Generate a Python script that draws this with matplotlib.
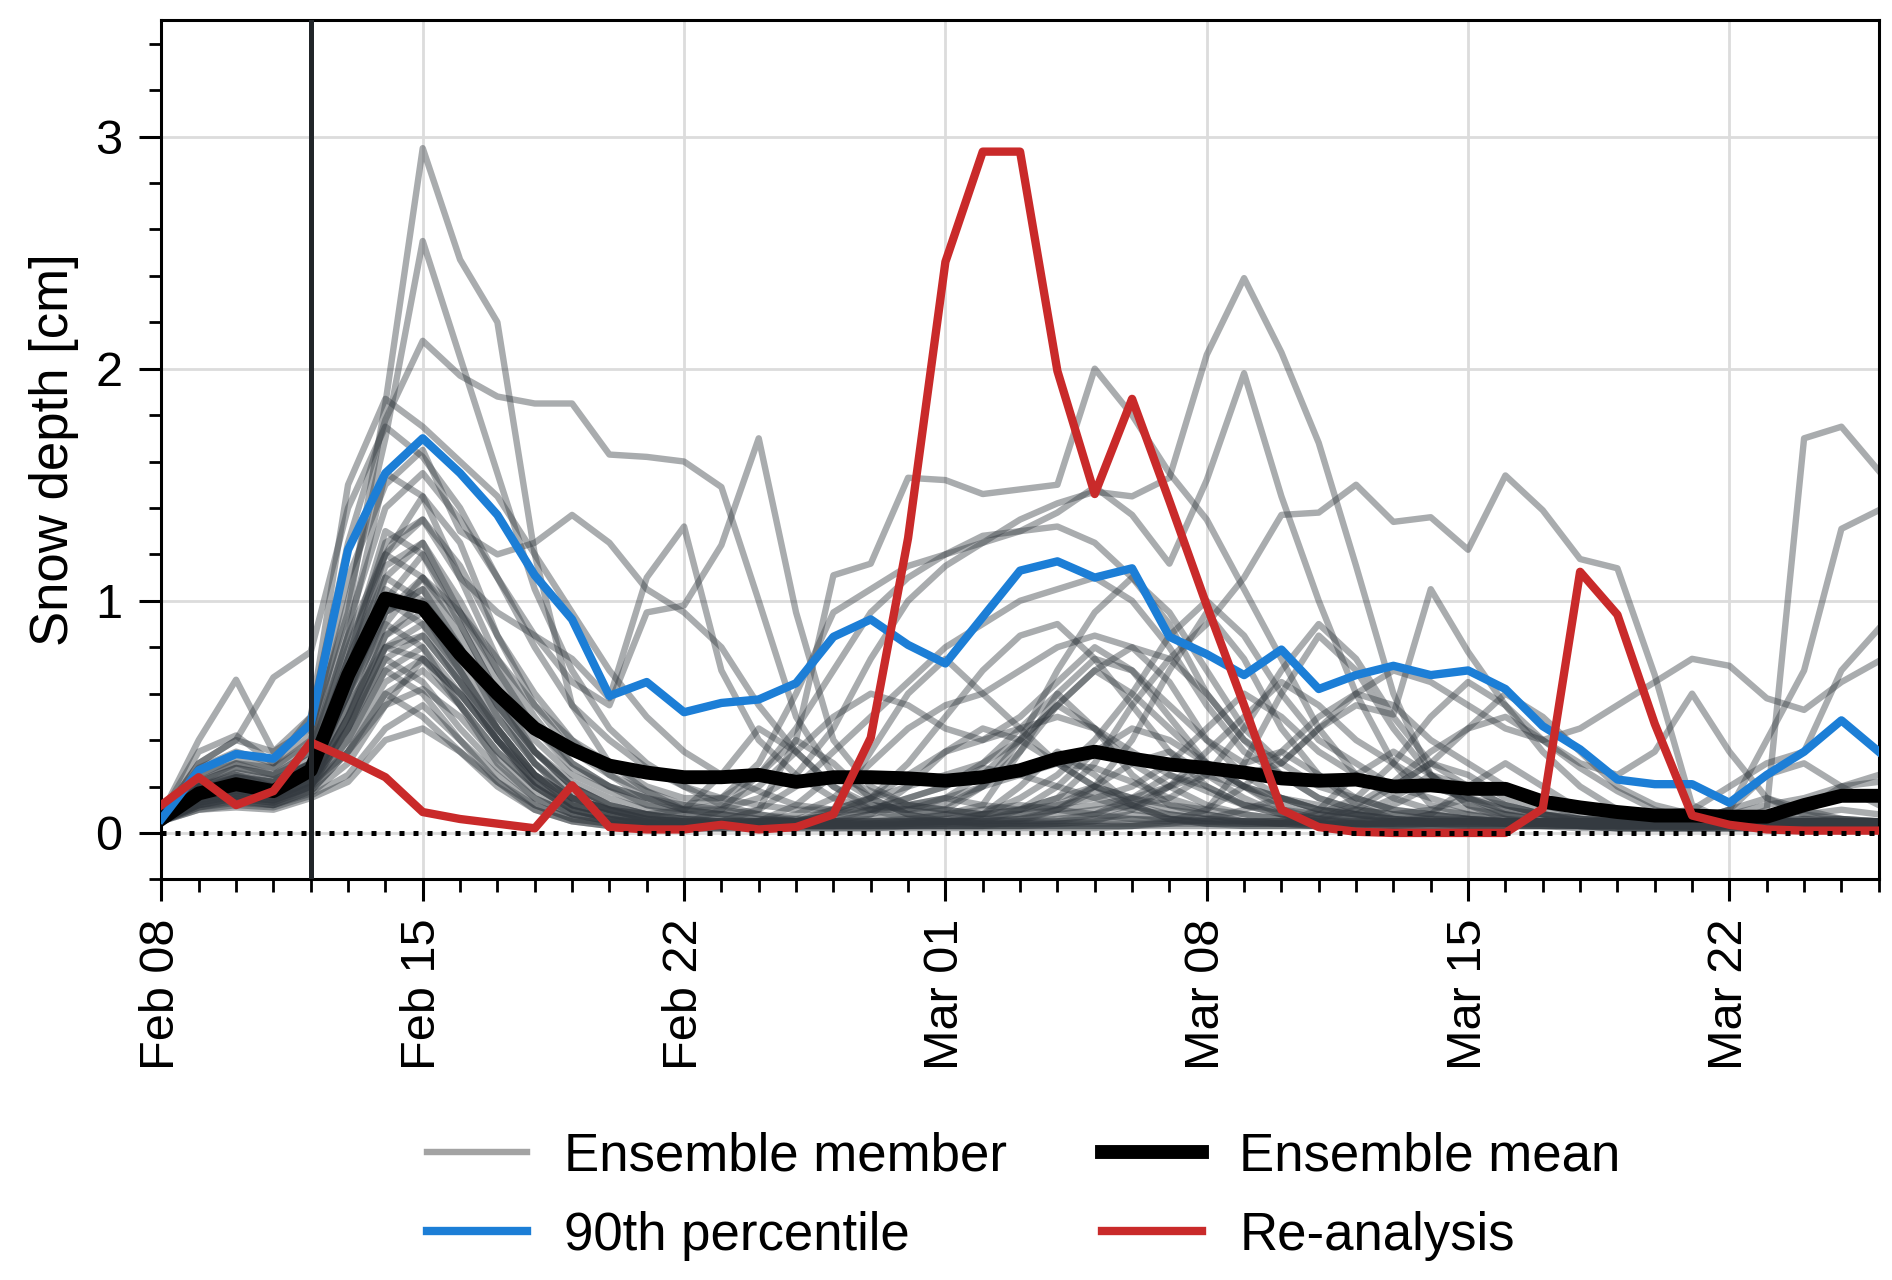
import numpy as np
import matplotlib
matplotlib.use("Agg")
import matplotlib.pyplot as plt
import matplotlib.dates as mdates
from matplotlib.ticker import MultipleLocator
from matplotlib.lines import Line2D

plt.rcParams['font.family'] = ['Liberation Sans', 'DejaVu Sans']
plt.rcParams['font.size'] = 19

# daily values, Feb 08 .. Mar 26
days = np.arange('2021-02-08', '2021-03-27', dtype='datetime64[D]')
init_day = np.datetime64('2021-02-12')

ens_mean = [0.06, 0.17, 0.21, 0.18, 0.27, 0.68, 1.01, 0.97, 0.77, 0.60, 0.45, 0.36,
            0.29, 0.26, 0.24, 0.24, 0.25, 0.22, 0.24, 0.24, 0.235, 0.225, 0.24, 0.27,
            0.32, 0.35, 0.32, 0.295, 0.28, 0.26, 0.235, 0.225, 0.23, 0.20, 0.205, 0.19,
            0.19, 0.135, 0.11, 0.09, 0.075, 0.075, 0.07, 0.07, 0.12, 0.16, 0.16]

p90 = [0.06, 0.27, 0.34, 0.32, 0.47, 1.22, 1.55, 1.70, 1.55, 1.37, 1.11, 0.92,
       0.59, 0.65, 0.52, 0.56, 0.575, 0.645, 0.845, 0.92, 0.81, 0.73, 0.93, 1.13,
       1.17, 1.10, 1.14, 0.845, 0.77, 0.68, 0.79, 0.62, 0.68, 0.72, 0.68, 0.70,
       0.62, 0.46, 0.36, 0.23, 0.21, 0.21, 0.13, 0.25, 0.35, 0.485, 0.35]

reanalysis = [0.12, 0.24, 0.12, 0.18, 0.39, 0.32, 0.24, 0.09, 0.06, 0.04, 0.02, 0.205,
              0.025, 0.015, 0.015, 0.035, 0.015, 0.025, 0.08, 0.41, 1.27, 2.46, 2.935, 2.935,
              1.99, 1.46, 1.87, 1.43, 0.98, 0.55, 0.10, 0.025, 0.005, 0.0, 0.0, 0.0,
              0.0, 0.105, 1.125, 0.94, 0.47, 0.075, 0.035, 0.015, 0.01, 0.01, 0.01]

members = [
    [0.07, 0.30, 0.40, 0.35, 0.45, 0.95, 1.85, 2.95, 2.47, 2.20, 1.20, 0.55, 0.30, 0.18, 0.10, 0.08, 0.06, 0.05, 0.06, 0.10, 0.15, 0.20, 0.28, 0.25, 0.20, 0.15, 0.10, 0.08, 0.06, 0.05, 0.04, 0.03, 0.03, 0.05, 0.08, 0.06, 0.04, 0.03, 0.02, 0.02, 0.02, 0.02, 0.02, 0.03, 0.05, 0.06, 0.05],
    [0.06, 0.25, 0.32, 0.28, 0.40, 1.00, 1.70, 2.55, 2.05, 1.55, 1.05, 0.70, 0.45, 0.30, 0.20, 0.12, 0.08, 0.05, 0.04, 0.04, 0.05, 0.08, 0.12, 0.35, 0.60, 0.45, 0.25, 0.12, 0.08, 0.05, 0.04, 0.03, 0.05, 0.12, 0.20, 0.15, 0.08, 0.05, 0.03, 0.02, 0.02, 0.02, 0.03, 0.05, 0.08, 0.10, 0.08],
    [0.08, 0.35, 0.42, 0.30, 0.50, 1.25, 1.78, 2.12, 1.97, 1.88, 1.85, 1.85, 1.63, 1.62, 1.60, 1.49, 1.00, 0.50, 0.25, 0.18, 0.12, 0.10, 0.08, 0.10, 0.15, 0.20, 0.15, 0.10, 0.08, 0.05, 0.05, 0.04, 0.03, 0.03, 0.04, 0.06, 0.05, 0.04, 0.03, 0.02, 0.02, 0.02, 0.02, 0.02, 0.03, 0.03, 0.03],
    [0.07, 0.28, 0.35, 0.30, 0.42, 1.10, 1.50, 1.65, 1.30, 1.20, 1.25, 1.37, 1.25, 1.05, 0.95, 0.80, 0.55, 0.35, 0.20, 0.12, 0.10, 0.15, 0.25, 0.40, 0.55, 0.45, 0.30, 0.20, 0.12, 0.08, 0.06, 0.05, 0.08, 0.15, 0.25, 0.20, 0.12, 0.08, 0.05, 0.04, 0.03, 0.03, 0.04, 0.05, 0.06, 0.05, 0.04],
    [0.05, 0.20, 0.25, 0.20, 0.30, 0.60, 0.90, 1.10, 0.90, 0.60, 0.35, 0.20, 0.12, 0.08, 0.06, 0.05, 0.10, 0.40, 1.11, 1.16, 1.53, 1.52, 1.46, 1.48, 1.50, 2.00, 1.80, 1.55, 1.35, 1.05, 0.75, 0.45, 0.25, 0.15, 0.10, 0.08, 0.05, 0.04, 0.03, 0.03, 0.03, 0.02, 0.02, 0.02, 0.03, 0.03, 0.03],
    [0.06, 0.18, 0.22, 0.20, 0.28, 0.70, 1.00, 1.20, 0.95, 0.70, 0.45, 0.30, 0.20, 0.15, 0.10, 0.10, 0.15, 0.25, 0.45, 0.75, 1.00, 1.15, 1.25, 1.35, 1.42, 1.47, 1.45, 1.53, 2.06, 2.39, 2.07, 1.68, 1.15, 0.60, 0.25, 0.12, 0.08, 0.05, 0.04, 0.03, 0.03, 0.03, 0.04, 0.05, 0.05, 0.05, 0.04],
    [0.07, 0.22, 0.28, 0.25, 0.35, 0.85, 1.20, 1.45, 1.25, 0.85, 0.55, 0.35, 0.25, 0.18, 0.12, 0.15, 0.30, 0.60, 0.95, 1.05, 1.15, 1.20, 1.25, 1.30, 1.38, 1.49, 1.37, 1.16, 1.52, 1.98, 1.45, 1.00, 0.60, 0.30, 0.12, 0.08, 0.06, 0.05, 0.04, 0.03, 0.03, 0.03, 0.03, 0.04, 0.05, 0.05, 0.05],
    [0.05, 0.15, 0.20, 0.18, 0.25, 0.55, 0.80, 0.90, 0.70, 0.45, 0.25, 0.15, 0.10, 0.08, 0.06, 0.05, 0.05, 0.08, 0.15, 0.30, 0.45, 0.55, 0.60, 0.70, 0.80, 0.85, 0.80, 0.75, 0.90, 1.10, 1.37, 1.38, 1.50, 1.34, 1.36, 1.22, 1.54, 1.39, 1.18, 1.14, 0.68, 0.12, 0.05, 0.04, 0.04, 0.05, 0.05],
    [0.06, 0.20, 0.25, 0.22, 0.30, 0.75, 1.10, 1.25, 0.95, 0.65, 0.40, 0.25, 0.18, 0.12, 0.10, 0.12, 0.20, 0.35, 0.50, 0.60, 0.55, 0.45, 0.40, 0.50, 0.65, 0.80, 0.70, 0.50, 0.30, 0.20, 0.15, 0.10, 0.08, 0.06, 0.05, 0.05, 0.05, 0.05, 0.04, 0.04, 0.04, 0.04, 0.04, 0.10, 1.70, 1.75, 1.56],
    [0.06, 0.18, 0.24, 0.22, 0.30, 0.65, 0.95, 1.05, 0.80, 0.55, 0.35, 0.22, 0.15, 0.10, 0.08, 0.08, 0.10, 0.20, 0.35, 0.50, 0.65, 0.80, 0.90, 1.00, 1.05, 1.10, 1.00, 0.80, 0.55, 0.35, 0.25, 0.15, 0.10, 0.08, 0.06, 0.05, 0.05, 0.05, 0.05, 0.05, 0.05, 0.05, 0.10, 0.40, 0.70, 1.31, 1.39],
    [0.06, 0.15, 0.18, 0.16, 0.22, 0.50, 0.75, 0.85, 0.65, 0.45, 0.25, 0.15, 0.10, 0.06, 0.05, 0.05, 0.05, 0.06, 0.10, 0.15, 0.20, 0.25, 0.30, 0.40, 0.55, 0.70, 0.60, 0.45, 0.30, 0.25, 0.30, 0.45, 0.55, 0.51, 1.05, 0.78, 0.55, 0.35, 0.20, 0.10, 0.08, 0.10, 0.20, 0.30, 0.35, 0.70, 0.88],
    [0.05, 0.12, 0.15, 0.14, 0.20, 0.45, 0.70, 0.80, 0.60, 0.40, 0.22, 0.12, 0.08, 0.05, 0.04, 0.04, 0.05, 0.05, 0.08, 0.10, 0.15, 0.20, 0.30, 0.45, 0.60, 0.75, 0.70, 0.55, 0.40, 0.30, 0.35, 0.50, 0.60, 0.70, 0.65, 0.55, 0.45, 0.40, 0.45, 0.55, 0.65, 0.75, 0.72, 0.58, 0.53, 0.65, 0.74],
    [0.07, 0.25, 0.30, 0.28, 0.38, 0.90, 1.40, 1.55, 1.35, 1.10, 0.85, 0.65, 0.55, 0.95, 0.98, 1.24, 1.70, 0.95, 0.40, 0.20, 0.12, 0.10, 0.08, 0.08, 0.10, 0.12, 0.15, 0.20, 0.25, 0.20, 0.15, 0.10, 0.08, 0.06, 0.05, 0.05, 0.04, 0.04, 0.04, 0.03, 0.03, 0.03, 0.03, 0.03, 0.04, 0.04, 0.04],
    [0.06, 0.22, 0.30, 0.25, 0.35, 0.80, 1.20, 1.35, 1.10, 0.95, 0.85, 0.75, 0.58, 1.10, 1.32, 0.70, 0.40, 0.25, 0.15, 0.10, 0.10, 0.12, 0.20, 0.40, 0.70, 0.95, 1.10, 0.90, 0.60, 0.40, 0.25, 0.15, 0.10, 0.08, 0.10, 0.15, 0.12, 0.08, 0.05, 0.04, 0.04, 0.04, 0.04, 0.05, 0.06, 0.06, 0.05],
    [0.05, 0.15, 0.20, 0.18, 0.25, 0.60, 0.95, 1.10, 0.95, 0.75, 0.55, 0.40, 0.30, 0.20, 0.15, 0.15, 0.25, 0.45, 0.70, 0.95, 1.10, 1.20, 1.28, 1.30, 1.32, 1.25, 1.10, 0.95, 0.70, 0.45, 0.30, 0.20, 0.15, 0.10, 0.08, 0.06, 0.05, 0.05, 0.04, 0.04, 0.04, 0.04, 0.04, 0.04, 0.05, 0.05, 0.05],
    [0.08, 0.40, 0.66, 0.35, 0.50, 1.50, 1.87, 1.75, 1.60, 1.45, 1.20, 0.95, 0.70, 0.50, 0.35, 0.25, 0.18, 0.12, 0.10, 0.10, 0.12, 0.15, 0.20, 0.25, 0.30, 0.28, 0.22, 0.15, 0.10, 0.08, 0.06, 0.05, 0.05, 0.05, 0.06, 0.06, 0.05, 0.04, 0.04, 0.03, 0.03, 0.03, 0.03, 0.03, 0.03, 0.04, 0.04],
    [0.07, 0.30, 0.40, 0.67, 0.78, 1.40, 1.75, 1.62, 1.40, 1.10, 0.80, 0.55, 0.40, 0.28, 0.20, 0.15, 0.12, 0.10, 0.10, 0.15, 0.25, 0.35, 0.40, 0.45, 0.50, 0.45, 0.35, 0.25, 0.18, 0.12, 0.10, 0.08, 0.06, 0.05, 0.05, 0.05, 0.04, 0.04, 0.04, 0.03, 0.03, 0.03, 0.03, 0.03, 0.04, 0.04, 0.04],
    [0.06, 0.18, 0.22, 0.20, 0.28, 0.75, 1.30, 1.20, 0.90, 0.60, 0.35, 0.20, 0.12, 0.08, 0.06, 0.05, 0.05, 0.05, 0.05, 0.06, 0.08, 0.10, 0.20, 0.35, 0.55, 0.70, 0.80, 0.65, 0.40, 0.25, 0.15, 0.10, 0.08, 0.06, 0.05, 0.05, 0.05, 0.05, 0.04, 0.04, 0.04, 0.03, 0.03, 0.03, 0.03, 0.03, 0.03],
    [0.05, 0.15, 0.18, 0.16, 0.24, 0.55, 0.95, 1.05, 0.80, 0.50, 0.30, 0.15, 0.10, 0.06, 0.05, 0.04, 0.04, 0.05, 0.10, 0.35, 0.60, 0.75, 0.60, 0.45, 0.30, 0.20, 0.15, 0.12, 0.10, 0.30, 0.60, 0.85, 0.70, 0.45, 0.25, 0.15, 0.10, 0.08, 0.06, 0.05, 0.05, 0.04, 0.04, 0.04, 0.04, 0.04, 0.04],
    [0.06, 0.16, 0.20, 0.18, 0.26, 0.65, 1.05, 0.95, 0.70, 0.45, 0.25, 0.12, 0.08, 0.05, 0.04, 0.04, 0.04, 0.04, 0.05, 0.05, 0.05, 0.05, 0.08, 0.15, 0.25, 0.40, 0.60, 0.85, 1.00, 0.85, 0.60, 0.40, 0.30, 0.20, 0.15, 0.10, 0.08, 0.06, 0.05, 0.05, 0.05, 0.05, 0.05, 0.05, 0.05, 0.05, 0.05],
    [0.05, 0.14, 0.18, 0.15, 0.22, 0.45, 0.80, 0.85, 0.65, 0.40, 0.20, 0.10, 0.06, 0.04, 0.03, 0.03, 0.03, 0.04, 0.05, 0.08, 0.12, 0.15, 0.12, 0.10, 0.15, 0.30, 0.55, 0.75, 0.60, 0.40, 0.30, 0.45, 0.60, 0.55, 0.40, 0.30, 0.20, 0.12, 0.08, 0.06, 0.05, 0.05, 0.05, 0.05, 0.05, 0.05, 0.05],
    [0.06, 0.20, 0.24, 0.22, 0.30, 0.70, 1.15, 1.25, 1.00, 0.70, 0.45, 0.28, 0.20, 0.15, 0.12, 0.10, 0.08, 0.06, 0.05, 0.05, 0.05, 0.05, 0.05, 0.06, 0.08, 0.10, 0.12, 0.15, 0.25, 0.45, 0.70, 0.90, 0.75, 0.50, 0.30, 0.20, 0.12, 0.08, 0.06, 0.05, 0.05, 0.05, 0.10, 0.25, 0.30, 0.20, 0.12],
    [0.05, 0.12, 0.15, 0.13, 0.20, 0.40, 0.65, 0.75, 0.55, 0.35, 0.20, 0.10, 0.06, 0.04, 0.03, 0.03, 0.03, 0.03, 0.03, 0.04, 0.05, 0.06, 0.08, 0.10, 0.12, 0.15, 0.20, 0.30, 0.45, 0.60, 0.50, 0.35, 0.25, 0.20, 0.30, 0.45, 0.60, 0.50, 0.35, 0.20, 0.12, 0.08, 0.06, 0.05, 0.05, 0.05, 0.05],
    [0.06, 0.22, 0.28, 0.25, 0.32, 0.85, 1.55, 1.45, 1.10, 0.75, 0.50, 0.30, 0.20, 0.12, 0.08, 0.06, 0.05, 0.05, 0.05, 0.08, 0.20, 0.35, 0.45, 0.40, 0.30, 0.20, 0.12, 0.08, 0.06, 0.05, 0.05, 0.04, 0.04, 0.04, 0.04, 0.05, 0.05, 0.05, 0.05, 0.05, 0.05, 0.05, 0.05, 0.05, 0.05, 0.05, 0.05],
    [0.05, 0.14, 0.17, 0.15, 0.22, 0.50, 0.85, 1.00, 0.80, 0.55, 0.35, 0.20, 0.12, 0.08, 0.05, 0.04, 0.04, 0.04, 0.04, 0.05, 0.06, 0.08, 0.10, 0.12, 0.10, 0.08, 0.06, 0.05, 0.05, 0.05, 0.05, 0.08, 0.15, 0.30, 0.50, 0.65, 0.55, 0.40, 0.30, 0.25, 0.35, 0.60, 0.35, 0.15, 0.08, 0.06, 0.05],
    [0.06, 0.17, 0.21, 0.19, 0.26, 0.60, 1.00, 0.90, 0.65, 0.40, 0.22, 0.12, 0.08, 0.05, 0.04, 0.04, 0.04, 0.05, 0.08, 0.15, 0.30, 0.50, 0.70, 0.85, 0.90, 0.75, 0.55, 0.35, 0.20, 0.12, 0.08, 0.06, 0.05, 0.05, 0.05, 0.05, 0.05, 0.05, 0.05, 0.05, 0.05, 0.05, 0.05, 0.05, 0.10, 0.20, 0.25],
    [0.05, 0.13, 0.16, 0.14, 0.21, 0.35, 0.60, 0.70, 0.55, 0.35, 0.20, 0.10, 0.06, 0.04, 0.03, 0.03, 0.03, 0.03, 0.03, 0.03, 0.04, 0.05, 0.05, 0.05, 0.06, 0.08, 0.12, 0.20, 0.35, 0.50, 0.65, 0.55, 0.40, 0.30, 0.20, 0.15, 0.10, 0.08, 0.06, 0.05, 0.05, 0.05, 0.05, 0.05, 0.05, 0.05, 0.05],
    [0.06, 0.19, 0.24, 0.20, 0.28, 0.75, 1.25, 1.35, 1.15, 0.85, 0.60, 0.40, 0.25, 0.15, 0.10, 0.08, 0.06, 0.05, 0.05, 0.05, 0.05, 0.05, 0.05, 0.06, 0.10, 0.20, 0.40, 0.70, 0.95, 0.75, 0.45, 0.25, 0.15, 0.10, 0.08, 0.06, 0.05, 0.05, 0.05, 0.05, 0.05, 0.05, 0.05, 0.05, 0.05, 0.05, 0.05],
    [0.05, 0.10, 0.12, 0.11, 0.16, 0.25, 0.45, 0.55, 0.40, 0.25, 0.12, 0.06, 0.04, 0.03, 0.02, 0.02, 0.02, 0.02, 0.02, 0.02, 0.03, 0.03, 0.03, 0.03, 0.04, 0.05, 0.06, 0.06, 0.05, 0.05, 0.04, 0.04, 0.04, 0.04, 0.04, 0.04, 0.04, 0.04, 0.04, 0.03, 0.03, 0.03, 0.03, 0.03, 0.03, 0.03, 0.03],
    [0.05, 0.12, 0.14, 0.12, 0.18, 0.35, 0.60, 0.50, 0.35, 0.20, 0.10, 0.05, 0.03, 0.02, 0.02, 0.02, 0.05, 0.12, 0.25, 0.15, 0.08, 0.05, 0.04, 0.04, 0.04, 0.05, 0.10, 0.20, 0.30, 0.20, 0.10, 0.06, 0.04, 0.03, 0.03, 0.03, 0.03, 0.03, 0.03, 0.02, 0.02, 0.02, 0.02, 0.02, 0.02, 0.02, 0.02],
    [0.06, 0.15, 0.18, 0.16, 0.22, 0.45, 0.75, 0.65, 0.45, 0.28, 0.15, 0.08, 0.05, 0.04, 0.03, 0.03, 0.03, 0.03, 0.03, 0.03, 0.03, 0.04, 0.08, 0.20, 0.35, 0.25, 0.12, 0.06, 0.04, 0.04, 0.04, 0.10, 0.25, 0.35, 0.25, 0.12, 0.06, 0.04, 0.03, 0.03, 0.03, 0.03, 0.03, 0.03, 0.03, 0.03, 0.03],
    [0.05, 0.11, 0.13, 0.12, 0.17, 0.30, 0.55, 0.75, 0.60, 0.40, 0.22, 0.10, 0.06, 0.04, 0.03, 0.03, 0.03, 0.03, 0.03, 0.03, 0.03, 0.03, 0.03, 0.03, 0.03, 0.03, 0.03, 0.04, 0.06, 0.10, 0.15, 0.12, 0.08, 0.05, 0.04, 0.04, 0.04, 0.04, 0.04, 0.04, 0.04, 0.04, 0.04, 0.04, 0.04, 0.04, 0.04],
    [0.05, 0.13, 0.16, 0.14, 0.20, 0.50, 0.90, 0.80, 0.55, 0.30, 0.15, 0.08, 0.05, 0.04, 0.04, 0.10, 0.25, 0.40, 0.30, 0.15, 0.08, 0.05, 0.04, 0.04, 0.04, 0.04, 0.04, 0.04, 0.04, 0.04, 0.04, 0.04, 0.04, 0.04, 0.08, 0.20, 0.30, 0.20, 0.10, 0.05, 0.04, 0.03, 0.03, 0.03, 0.03, 0.03, 0.03],
    [0.05, 0.10, 0.11, 0.10, 0.15, 0.22, 0.40, 0.45, 0.35, 0.22, 0.12, 0.06, 0.04, 0.03, 0.02, 0.02, 0.02, 0.02, 0.02, 0.02, 0.02, 0.02, 0.02, 0.02, 0.02, 0.02, 0.03, 0.05, 0.10, 0.20, 0.35, 0.25, 0.12, 0.06, 0.04, 0.03, 0.03, 0.03, 0.03, 0.03, 0.03, 0.03, 0.03, 0.03, 0.03, 0.03, 0.03],
    [0.06, 0.16, 0.19, 0.17, 0.24, 0.60, 1.10, 1.00, 0.75, 0.50, 0.30, 0.18, 0.10, 0.06, 0.05, 0.04, 0.04, 0.04, 0.04, 0.04, 0.04, 0.05, 0.06, 0.08, 0.12, 0.20, 0.30, 0.35, 0.25, 0.15, 0.08, 0.05, 0.04, 0.04, 0.04, 0.04, 0.04, 0.04, 0.04, 0.04, 0.04, 0.04, 0.04, 0.04, 0.04, 0.04, 0.04],
    [0.05, 0.12, 0.15, 0.13, 0.19, 0.40, 0.70, 0.60, 0.40, 0.22, 0.10, 0.05, 0.03, 0.03, 0.03, 0.03, 0.03, 0.03, 0.03, 0.03, 0.03, 0.03, 0.03, 0.03, 0.03, 0.03, 0.03, 0.03, 0.03, 0.03, 0.03, 0.03, 0.03, 0.03, 0.03, 0.03, 0.03, 0.03, 0.03, 0.03, 0.03, 0.03, 0.03, 0.03, 0.03, 0.03, 0.03],
    [0.06, 0.14, 0.17, 0.15, 0.21, 0.50, 0.85, 0.95, 0.70, 0.45, 0.25, 0.12, 0.08, 0.05, 0.04, 0.04, 0.04, 0.05, 0.08, 0.12, 0.10, 0.08, 0.06, 0.05, 0.05, 0.08, 0.15, 0.25, 0.20, 0.12, 0.08, 0.06, 0.10, 0.20, 0.30, 0.25, 0.15, 0.10, 0.06, 0.05, 0.05, 0.05, 0.08, 0.12, 0.15, 0.20, 0.22],
    [0.05, 0.11, 0.14, 0.12, 0.18, 0.35, 0.55, 0.62, 0.50, 0.32, 0.18, 0.08, 0.05, 0.03, 0.03, 0.03, 0.03, 0.03, 0.03, 0.03, 0.03, 0.03, 0.03, 0.05, 0.10, 0.18, 0.12, 0.06, 0.04, 0.03, 0.03, 0.03, 0.03, 0.03, 0.03, 0.03, 0.03, 0.03, 0.03, 0.03, 0.03, 0.05, 0.10, 0.15, 0.10, 0.06, 0.04],
    [0.06, 0.20, 0.26, 0.23, 0.30, 0.70, 1.20, 1.10, 0.85, 0.55, 0.30, 0.15, 0.10, 0.06, 0.05, 0.05, 0.04, 0.04, 0.04, 0.04, 0.04, 0.04, 0.04, 0.04, 0.05, 0.06, 0.08, 0.06, 0.05, 0.04, 0.04, 0.06, 0.12, 0.22, 0.35, 0.45, 0.50, 0.40, 0.28, 0.18, 0.10, 0.06, 0.05, 0.05, 0.05, 0.05, 0.05],
    [0.05, 0.13, 0.16, 0.14, 0.20, 0.45, 0.80, 0.75, 0.60, 0.40, 0.25, 0.15, 0.10, 0.08, 0.10, 0.25, 0.45, 0.35, 0.20, 0.10, 0.06, 0.05, 0.05, 0.10, 0.20, 0.35, 0.45, 0.40, 0.30, 0.20, 0.12, 0.08, 0.06, 0.05, 0.05, 0.05, 0.05, 0.05, 0.05, 0.05, 0.05, 0.05, 0.05, 0.05, 0.05, 0.05, 0.05],
]

member_color = '#343a40'
mean_color = 'black'
p90_color = '#1c7ed6'
rea_color = '#c92a2a'

fig = plt.figure(figsize=(9.46, 6.4), dpi=200)
ax = fig.add_axes([0.0853, 0.313, 0.9077, 0.671])

for m in members:
    ax.plot(days, m, color=member_color, alpha=0.42, lw=2.3, zorder=2)
ax.plot(days, ens_mean, color=mean_color, lw=5.0, zorder=3)
ax.plot(days, p90, color=p90_color, lw=3.0, zorder=4)
ax.plot(days, reanalysis, color=rea_color, lw=3.0, zorder=5)

ax.axhline(0, color='black', lw=1.8, ls=(0, (1, 1.8)), zorder=6)
ax.axvline(init_day, color='#212529', lw=1.8, zorder=6)

ax.set_xlim(days[0], days[-1])
ax.set_ylim(-0.2, 3.5)
ax.xaxis.set_major_locator(mdates.DayLocator(bymonthday=[1, 8, 15, 22]))
ax.xaxis.set_major_formatter(mdates.DateFormatter('%b %d'))
ax.xaxis.set_minor_locator(mdates.DayLocator())
ax.yaxis.set_major_locator(MultipleLocator(1))
ax.yaxis.set_minor_locator(MultipleLocator(0.2))
plt.setp(ax.get_xticklabels(), rotation=90)

ax.tick_params(which='major', direction='out', length=8, width=1.1, pad=6,
               labelsize=17.5)
ax.tick_params(which='minor', direction='out', length=4.5, width=1.0)
ax.grid(True, which='major', color='#dcdcdc', lw=1.0)
ax.set_axisbelow(True)
for s in ax.spines.values():
    s.set_linewidth(1.1)

ax.set_ylabel('Snow depth [cm]', fontsize=19, labelpad=6)

handles = [
    Line2D([], [], color='#a3a3a3', lw=2.3),
    Line2D([], [], color=p90_color, lw=3.0),
    Line2D([], [], color=mean_color, lw=5.0),
    Line2D([], [], color=rea_color, lw=3.0),
]
labels = ['Ensemble member', '90th percentile', 'Ensemble mean', 'Re-analysis']
fig.legend(handles, labels, loc='lower center', bbox_to_anchor=(0.541, -0.022),
           ncol=2, frameon=False, handlelength=1.9, handletextpad=0.7,
           columnspacing=1.8, labelspacing=0.55, fontsize=19)

fig.savefig('out.png', dpi=200)
